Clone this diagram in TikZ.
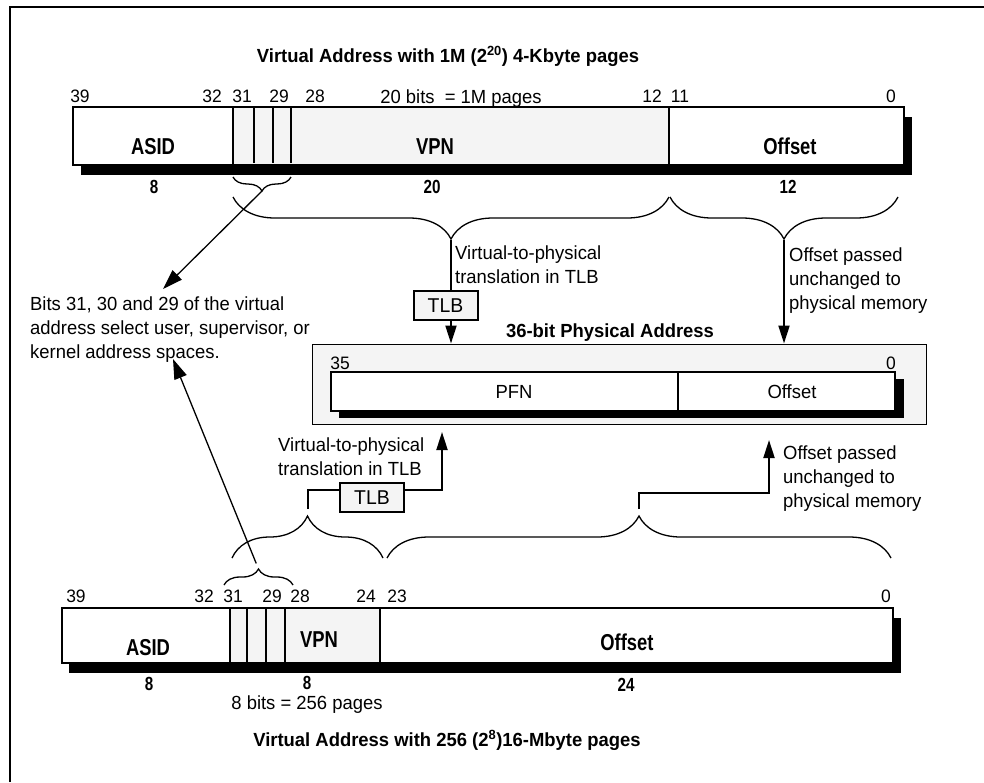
\documentclass[tikz,border=0pt]{standalone}
\usepackage{fontspec}
\setmainfont{Liberation Sans}[FakeStretch=0.97]
\newfontfamily\fieldfont{Liberation Sans}[FakeStretch=0.8]
\usetikzlibrary{arrows.meta,decorations.pathreplacing}
\definecolor{fieldgray}{gray}{0.955}

\tikzset{
  bitnum/.style={anchor=base,inner sep=0pt,font=\fontsize{18}{22}\selectfont},
  fieldlab/.style={anchor=base,inner sep=0pt,font=\fieldfont\bfseries\fontsize{23}{28}\selectfont},
  sizelab/.style={anchor=base,inner sep=0pt,font=\fieldfont\bfseries\fontsize{19}{22}\selectfont},
  plainlab/.style={anchor=base,inner sep=0pt,font=\fontsize{19}{24}\selectfont},
  titlelab/.style={anchor=base,inner sep=0pt,font=\bfseries\fontsize{19}{24}\selectfont},
  note/.style={anchor=base west,inner sep=0pt,align=left,font=\fontsize{19}{24}\selectfont},
  tlbbox/.style={draw,line width=2pt,fill=fieldgray,inner sep=0pt,minimum width=64pt,minimum height=29pt,font=\fontsize{20}{24}\selectfont},
  brc/.style={decorate,decoration={brace,amplitude=#1},line width=1.3pt},
  mbrc/.style={decorate,decoration={brace,mirror,amplitude=#1},line width=1.3pt},
  flow/.style={line width=2pt,-{Triangle[length=18pt,width=11pt]}},
  thinflow/.style={line width=1.3pt,-{Triangle[length=20pt,width=13pt]}},
  barline/.style={line width=2pt},
}

\begin{document}
\begin{tikzpicture}[x=1pt,y=-1pt]
\useasboundingbox (0,0) rectangle (984,782);
\draw[line width=2.5pt] (10,782) -- (10,7) -- (984,7);

% 1M pages virtual address
\node[titlelab] (toptitle) at (448,62) {Virtual Address with 1M (2\textsuperscript{20}) 4-Kbyte pages};
\fill (81,117) rectangle (912,175);
\fill[white] (73,107) rectangle (904,165);
\fill[fieldgray] (233,107) rectangle (669,165);
\draw[barline] (73,107) rectangle (904,165);
\foreach \x in {233,669} {\draw[barline] (\x,107) -- (\x,165);}
\foreach \x in {254,273,291} {\draw[barline] (\x,107) -- (\x,163);}
\foreach \x/\n in {80/39,212/32,242/31,279/29,315/28,652/12,680/11,891/0} {\node[bitnum] (tb\n) at (\x,102) {\n};}
\node[plainlab] (topbits) at (461,103) {20 bits\ \ = 1M pages};
\node[fieldlab] (tasid) at (153,154) {ASID};
\node[fieldlab] (tvpn) at (435,154) {VPN};
\node[fieldlab] (toff) at (790,154) {Offset};
\node[sizelab] (ts8) at (154,193) {8};
\node[sizelab] (ts20) at (432,193) {20};
\node[sizelab] (ts12) at (788,193) {12};

\draw[mbrc=14] (233,177) -- (291,177);
\draw[mbrc=42] (233,197) -- (669,197);
\draw[mbrc=42] (670,197) -- (898,197);
\coordinate (selTip) at (262,191);
\coordinate (vpnTip) at (451,239);
\coordinate (offTip) at (784,239);

% 36-bit physical address
\node[titlelab] (phystitle) at (610,337) {36-bit Physical Address};
\node[draw,line width=1pt,fill=fieldgray,minimum width=614pt,minimum height=80pt,inner sep=0pt] (phys) at (619,384) {};
\fill (339,379) rectangle (904,418);
\filldraw[barline,fill=white] (331,372) rectangle (895,411);
\draw[barline] (678,372) -- (678,411);
\node[bitnum] (pb35) at (340,369) {35};
\node[bitnum] (pb0) at (891,369) {0};
\node[plainlab] (pfn) at (514,398) {PFN};
\node[plainlab] (poff) at (792,398) {Offset};

% top translation
\node[tlbbox] (tlbA) at (445.5,305.5) {TLB};
\node[note] (transA) at (455,283) {Virtual-to-physical\\translation in TLB};
\node[note] (passA) at (789,309) {Offset passed\\unchanged to\\physical memory};
\draw[barline,shorten <=1pt] (vpnTip) -- (vpnTip |- tlbA.north);
\draw[flow] (tlbA.south -| vpnTip) -- (vpnTip |- phys.north);
\draw[flow,shorten <=1pt] (offTip) -- (offTip |- phys.north);

% note on bits 31..29
\node[note] (selnote) at (30,358) {Bits 31, 30 and 29 of the virtual\\address select user, supervisor, or\\kernel address spaces.};
\coordinate (selA) at (163,289);
\coordinate (selB) at (173,359);
\draw[thinflow] (selTip) -- (selA);

% bottom translation
\node[tlbbox] (tlbB) at (372,497.5) {TLB};
\node[note] (transB) at (278,475) {Virtual-to-physical\\translation in TLB};
\node[note] (passB) at (783,507) {Offset passed\\unchanged to\\physical memory};
\coordinate (pfnIn) at (442,432);
\coordinate (offIn) at (769,440);
\coordinate (offBend) at (769,493);
\coordinate (vpnTipB) at (307.5,515);
\coordinate (offTipB) at (639,515);
\coordinate (selTipB) at (258.5,569);
\draw[barline,shorten <=6pt] (vpnTipB) |- ([yshift=7.5pt]tlbB.west);
\draw[flow] ([yshift=7.5pt]tlbB.east) -| (pfnIn);
\draw[flow,shorten <=6pt] (offTipB) |- (offBend) -- (offIn);
\draw[thinflow,shorten <=6pt] (selTipB) -- (selB);

\draw[brc=42] (232,558) -- (383,558);
\draw[brc=42] (387,558) -- (891,558);
\draw[brc=16] (224,585) -- (293,585);

% 256 pages virtual address
\fill (69,618) rectangle (901,673);
\fill[white] (62,608) rectangle (893,663);
\fill[fieldgray] (230,608) rectangle (380,663);
\draw[barline] (62,608) rectangle (893,663);
\foreach \x in {230,247,266,285,380} {\draw[barline] (\x,608) -- (\x,663);}
\foreach \x/\n in {76/39,204/32,233/31,272/29,300/28,366/24,397/23,886/0} {\node[bitnum] (bb\n) at (\x,602) {\n};}
\node[fieldlab] (basid) at (148,655) {ASID};
\node[fieldlab] (bvpn) at (319,647) {VPN};
\node[fieldlab] (boff) at (627,650) {Offset};
\node[sizelab] (bs8) at (149,690) {8};
\node[sizelab] (bs8b) at (307,689) {8};
\node[sizelab] (bs24) at (626,691) {24};
\node[plainlab] (botbits) at (307,709) {8 bits = 256 pages};
\node[titlelab] (bottitle) at (447,746) {Virtual Address with 256 (2\textsuperscript{8})16-Mbyte pages};
\end{tikzpicture}
\end{document}
